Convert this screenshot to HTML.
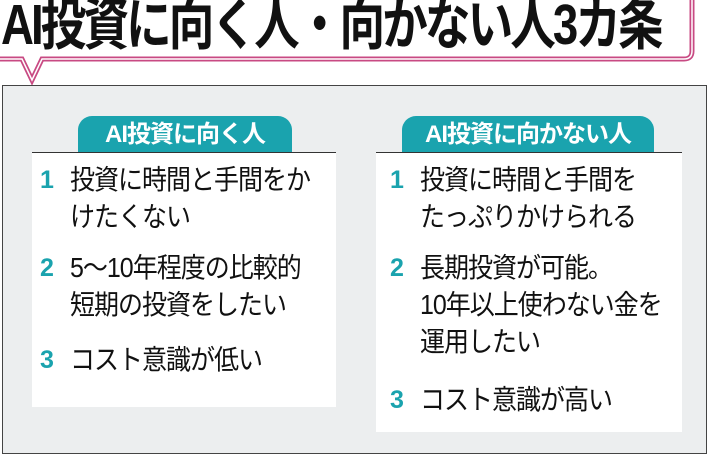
<!DOCTYPE html>
<html><head><meta charset="utf-8"><style>
body{margin:0;width:710px;height:457px;background:#fff;position:relative;overflow:hidden;font-family:"Liberation Sans","Noto Sans CJK JP",sans-serif;}
.abs{position:absolute}
.title{left:1px;top:-9px;font-size:47px;line-height:56px;font-weight:bold;color:#111;letter-spacing:-3px;white-space:nowrap;transform:scale(0.97,1.2);transform-origin:top left}
.gray{left:2px;top:85px;width:703px;height:367px;background:#eceeef;border:1.5px solid #444}
.panel{background:#fff;border-top:1.5px solid #333}
.tab{background:#1aa3ae;color:#fff;font-weight:bold;font-size:24px;text-align:center;border-radius:14px 14px 0 0;line-height:37px;letter-spacing:-1px}
.t{font-size:25px;color:#111;white-space:nowrap;letter-spacing:-1px;line-height:30px;transform:scaleY(1.1)}
.n{font-size:25px;color:#1aa3ae;font-weight:bold;line-height:30px}
</style></head><body>
<div class="abs title">AI投資に向く人・向かない人3カ条</div>
<svg class="abs" style="left:0;top:0" width="710" height="90">
<path d="M0 59 H22 L32 80 L42 59 H684 Q692 59 692 51 V0" fill="none" stroke="#c84a83" stroke-width="5"/>
<path d="M0 59 H22 L32 80 L42 59 H684 Q692 59 692 51 V0" fill="none" stroke="#fff" stroke-width="1.5"/>
</svg>
<div class="abs gray"></div>
<div class="abs tab" style="left:78px;top:116px;width:214px">AI投資に向く人</div>
<div class="abs tab" style="left:402px;top:116px;width:252px">AI投資に向かない人</div>
<div class="abs panel" style="left:32px;top:152px;width:304px;height:254px"></div>
<div class="abs panel" style="left:376px;top:152px;width:306px;height:279px"></div>
<div class="abs n" style="left:40px;top:165px">1</div>
<div class="abs t" style="left:70px;top:165px">投資に時間と手間をか</div>
<div class="abs t" style="left:70px;top:202px">けたくない</div>
<div class="abs n" style="left:40px;top:253px">2</div>
<div class="abs t" style="left:70px;top:253px">5～10年程度の比較的</div>
<div class="abs t" style="left:70px;top:290px">短期の投資をしたい</div>
<div class="abs n" style="left:40px;top:345px">3</div>
<div class="abs t" style="left:70px;top:345px">コスト意識が低い</div>
<div class="abs n" style="left:390px;top:165px">1</div>
<div class="abs t" style="left:420px;top:165px">投資に時間と手間を</div>
<div class="abs t" style="left:420px;top:202px">たっぷりかけられる</div>
<div class="abs n" style="left:390px;top:253px">2</div>
<div class="abs t" style="left:420px;top:253px">長期投資が可能。</div>
<div class="abs t" style="left:420px;top:290px">10年以上使わない金を</div>
<div class="abs t" style="left:420px;top:327px">運用したい</div>
<div class="abs n" style="left:390px;top:385px">3</div>
<div class="abs t" style="left:420px;top:385px">コスト意識が高い</div>
</body></html>
